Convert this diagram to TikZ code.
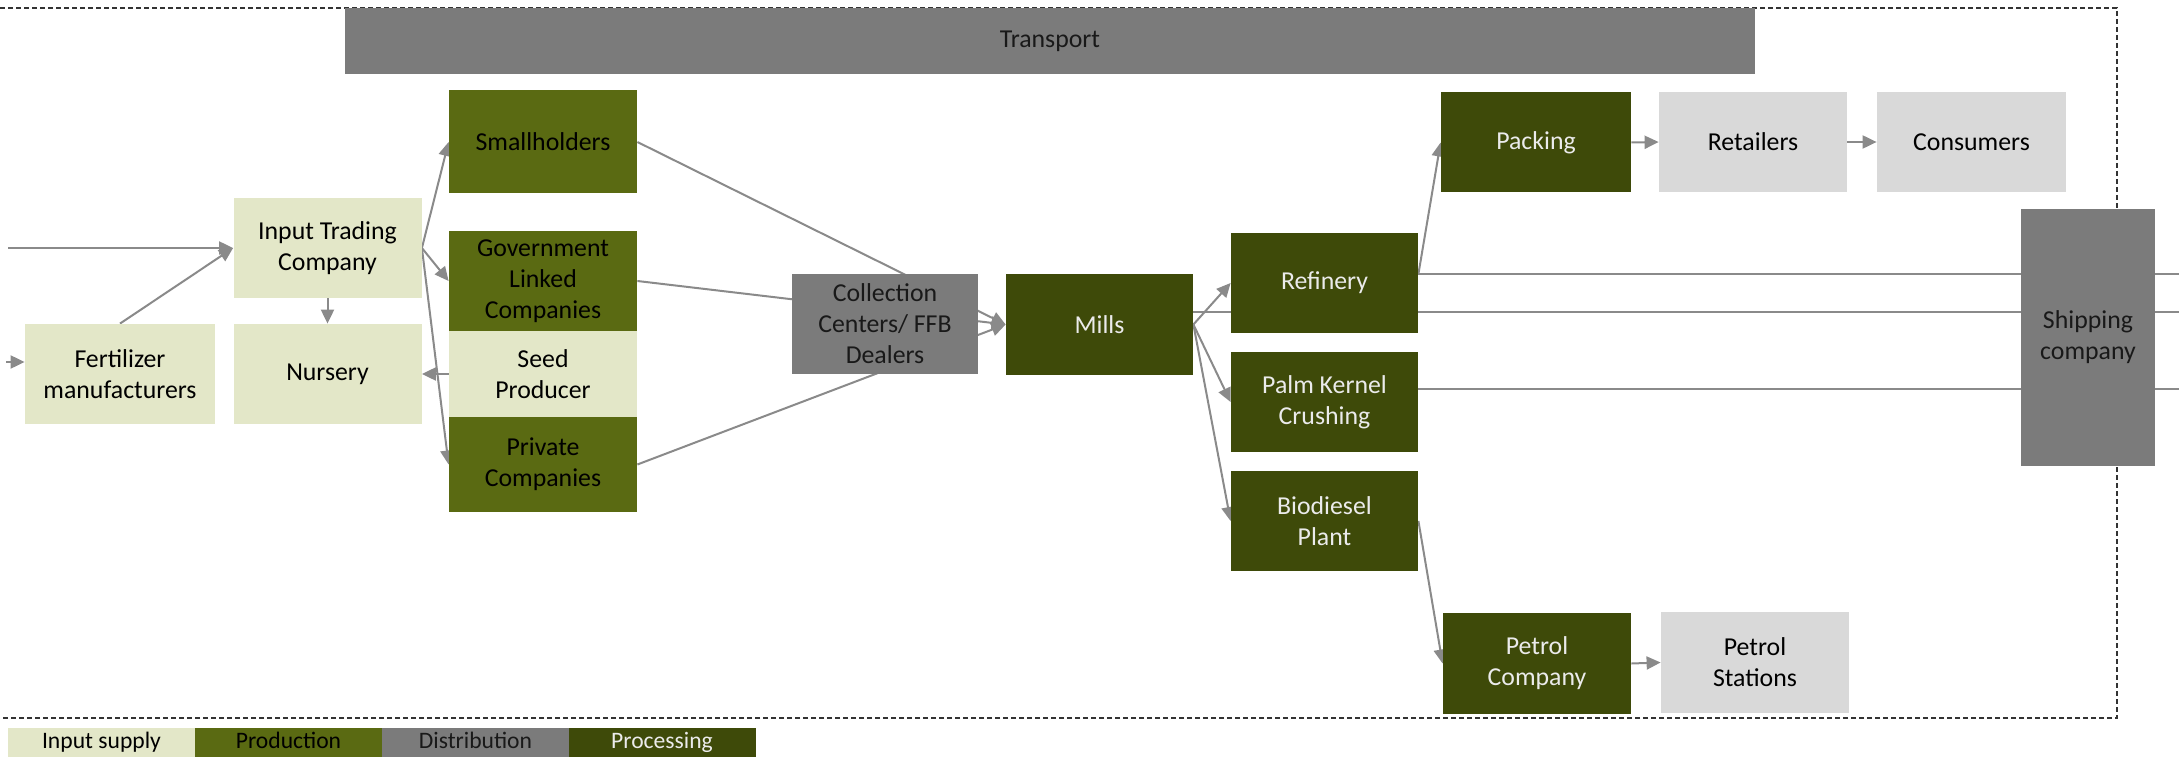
\documentclass[tikz,border=0pt]{standalone}
\usepackage{fontspec}
\setmainfont{Carlito}
\usetikzlibrary{arrows.meta,backgrounds}
\definecolor{inputcol}{HTML}{E3E7C8}
\definecolor{prodcol}{HTML}{5A6A12}
\definecolor{distcol}{HTML}{7B7B7B}
\definecolor{proccol}{HTML}{3E4A09}
\definecolor{retailcol}{HTML}{D9D9D9}
\definecolor{linecol}{HTML}{8A8A8A}
\newcommand{\diagfont}{\fontsize{12.9}{15.5}\selectfont}
\newcommand{\legendfont}{\fontsize{11.8}{13}\selectfont}
\tikzset{
	box/.style={rectangle, inner sep=0pt, minimum width=94pt, minimum height=50pt, align=center, font=\diagfont},
	inputbox/.style={box, fill=inputcol, text=black},
	prodbox/.style={box, fill=prodcol, text=black},
	distbox/.style={box, fill=distcol, text=black!90},
	procbox/.style={box, fill=proccol, text=white!92!black},
	retailbox/.style={box, fill=retailcol, text=black},
	legendbox/.style={rectangle, inner sep=0pt, minimum width=93.5pt, minimum height=14.5pt, text height=8.2pt, text depth=2.6pt, font=\legendfont},
	flow/.style={draw=linecol, line width=1pt, -{Triangle[length=7pt,width=6.5pt]}},
	export/.style={draw=linecol, line width=1pt}
}
\begin{document}
\begin{tikzpicture}[x=0.5pt,y=-0.5pt]
	\useasboundingbox (0,0) rectangle (2179,759);
	\node[distbox, minimum width=705pt, minimum height=33pt] (trans) at (1050,41) {Transport};
	\node[inputbox, minimum width=95pt] (fert) at (120,374) {Fertilizer\\manufacturers};
	\node[inputbox] (itc) at (327.5,248) {Input Trading\\Company};
	\node[inputbox] (nur) at (327.5,374) {Nursery};
	\node[prodbox, minimum height=51.5pt] (small) at (543,142) {Smallholders};
	\node[prodbox] (govt) at (543,281) {Government\\Linked\\Companies};
	\node[inputbox, minimum height=43pt] (seed) at (543,374) {Seed\\Producer};
	\node[prodbox, minimum height=47.5pt] (priv) at (543,464.5) {Private\\Companies};
	\node[distbox, minimum width=93pt] (coll) at (885,324) {Collection\\Centers/ FFB\\Dealers};
	\node[procbox, minimum width=93.5pt] (mills) at (1099.5,324.5) {Mills};
	\node[procbox, minimum width=93.5pt] (ref) at (1324.5,283) {Refinery};
	\node[procbox, minimum width=93.5pt] (pk) at (1324.5,402) {Palm Kernel\\Crushing};
	\node[procbox, minimum width=93.5pt] (bio) at (1324.5,521) {Biodiesel\\Plant};
	\node[procbox, minimum width=95pt] (pack) at (1536,142.5) {Packing};
	\node[retailbox] (ret) at (1753,142) {Retailers};
	\node[retailbox, minimum width=94.5pt] (cons) at (1971.5,142) {Consumers};
	\node[distbox, minimum width=67pt, minimum height=128.5pt] (ship) at (2088,337.5) {Shipping\\company};
	\node[procbox, minimum height=50.5pt] (pet) at (1537,663.5) {Petrol\\Company};
	\node[retailbox, minimum height=50.5pt] (pst) at (1755,662.5) {Petrol\\Stations};
	\node[legendbox, fill=inputcol, text=black] (leg1) at (101.5,742.5) {Input supply};
	\node[legendbox, fill=prodcol, text=black] (leg2) at (288.5,742.5) {Production};
	\node[legendbox, fill=distcol, text=black!90] (leg3) at (475.5,742.5) {Distribution};
	\node[legendbox, fill=proccol, text=white!92!black] (leg4) at (662,742.5) {Processing};
	\coordinate (inL) at (8,248);
	\coordinate (inF) at (6,362);
	\coordinate (exR) at (2179,274);
	\coordinate (exM) at (2179,312);
	\coordinate (exP) at (2179,389);
	\begin{pgfonlayer}{background}
		\draw[black!80, line width=0.7pt, dash pattern=on 2.5pt off 1.5pt] (0,8) -- (2117,8) -- (2117,718) -- (0,718);
		\draw[flow] (inL) -- (itc.west);
		\draw[flow] (inF) -- (inF -| fert.west);
		\draw[flow] (fert.north) -- (itc.west);
		\draw[flow] (itc.south) -- (nur.north);
		\draw[flow] (itc.east) -- (small.west);
		\draw[flow] (itc.east) -- (govt.west);
		\draw[flow] (itc.east) -- (priv.west);
		\draw[flow] (seed.west) -- (nur.east);
		\draw[flow] (small.east) -- (mills.west);
		\draw[flow] (govt.east) -- (mills.west);
		\draw[flow] (priv.east) -- (mills.west);
		\draw[flow] (mills.east) -- (ref.west);
		\draw[flow] (mills.east) -- (pk.west);
		\draw[flow] (mills.east) -- (bio.west);
		\draw[export] (exM -| mills.east) -- (exM);
		\draw[export] (exR -| ref.east) -- (exR);
		\draw[export] (exP -| pk.east) -- (exP);
		\draw[flow] (exR -| ref.east) -- (pack.west);
		\draw[flow] (pack.east) -- (ret.west);
		\draw[flow] (ret.east) -- (cons.west);
		\draw[flow] (bio.east) -- (pet.west);
		\draw[flow] (pet.east) -- (pst.west);
	\end{pgfonlayer}
\end{tikzpicture}
\end{document}
